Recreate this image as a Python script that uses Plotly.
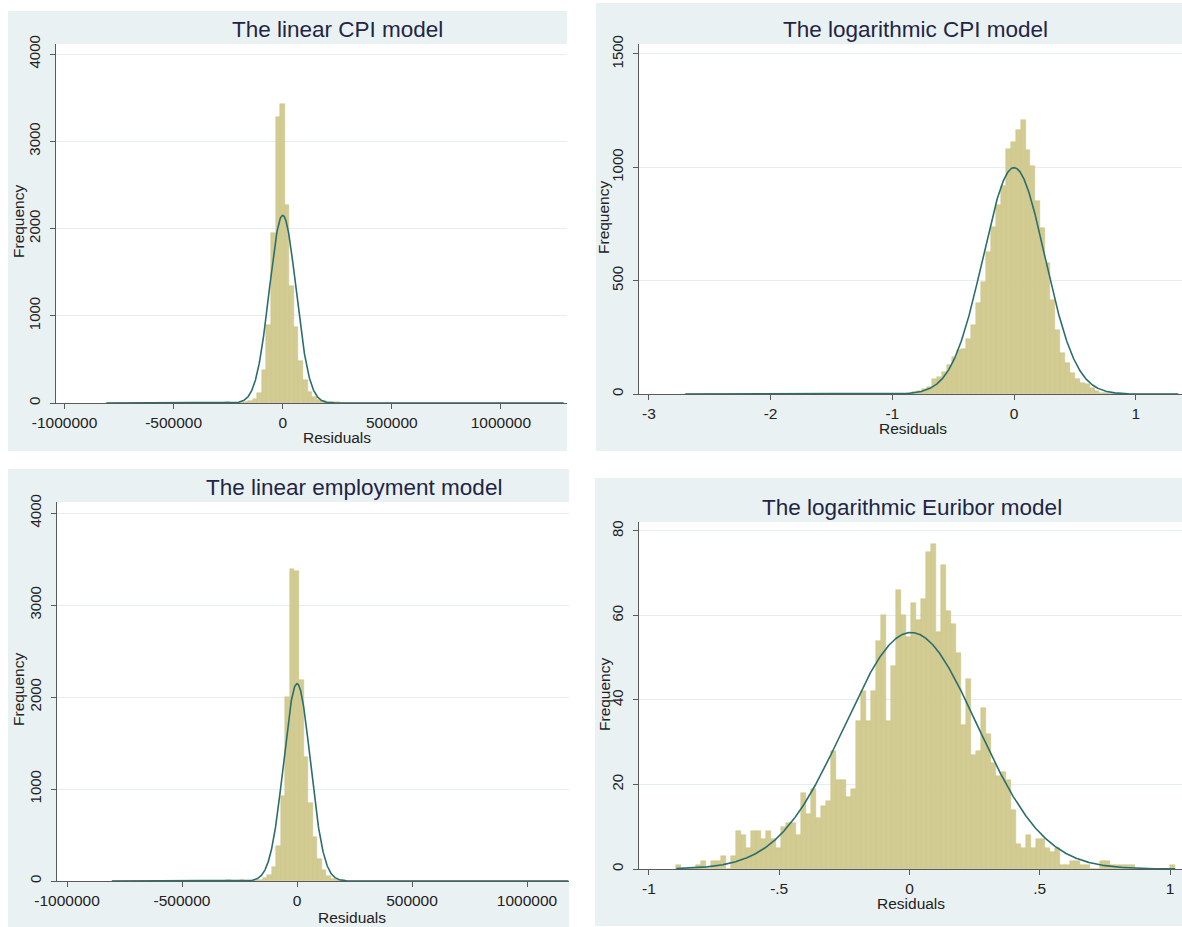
import numpy as np
import plotly.graph_objects as go

W, H = 1182, 927

# ---------------- histogram data (100 equal-width bins per model) ----------------
# linear CPI model residuals
lin_cpi_start = -808000
lin_cpi_width = 20950
lin_cpi_counts = [
    3, 0, 0, 0, 0, 0, 0, 0, 0, 0,
    2, 0, 0, 0, 0, 0, 3, 0, 0, 4,
    0, 5, 0, 0, 5, 0, 6, 0, 0, 8,
    12, 25, 50, 110, 380, 890, 1950, 3280, 3430, 2270,
    1340, 870, 480, 260, 130, 70, 35, 20, 12, 8,
    6, 0, 5, 0, 0, 3, 0, 0, 0, 0,
    4, 0, 0, 3, 0, 0, 0, 4, 0, 0,
    3, 0, 0, 0, 3, 0, 0, 0, 3, 0,
    2, 0, 0, 3, 0, 0, 0, 0, 0, 0,
    0, 0, 0, 0, 0, 0, 0, 0, 0, 2,
]
lin_cpi_fit = (0.0, 61000.0)          # mean, sd of the normal overlay

# logarithmic CPI model residuals
log_cpi_start = -2.70
log_cpi_width = 0.0405
log_cpi_counts = [
    1, 0, 0, 1, 0, 2, 0, 0, 1, 0,
    1, 0, 2, 0, 0, 1, 0, 0, 0, 0,
    1, 0, 0, 0, 1, 0, 0, 0, 0, 0,
    2, 0, 0, 1, 0, 0, 0, 0, 2, 0,
    0, 2, 0, 2, 2, 4, 7, 12, 20, 30,
    65, 76, 99, 126, 165, 194, 197, 241, 304, 403,
    496, 628, 738, 834, 918, 1079, 1110, 1165, 1209, 1076,
    1006, 853, 731, 576, 415, 282, 179, 135, 91, 65,
    50, 44, 25, 13, 6, 3, 2, 1, 1, 0,
    1, 0, 0, 0, 0, 0, 0, 0, 0, 1,
]
log_cpi_fit = (0.0, 0.254)

# linear employment model residuals
lin_emp_start = -805000
lin_emp_width = 19850
lin_emp_counts = [
    3, 0, 0, 0, 0, 0, 0, 0, 0, 0,
    3, 0, 0, 0, 0, 2, 0, 0, 4, 0,
    5, 0, 5, 0, 0, 6, 0, 0, 8, 0,
    0, 10, 15, 30, 60, 150, 380, 920, 2000, 3390,
    3370, 2190, 1345, 850, 478, 243, 116, 51, 25, 14,
    8, 0, 0, 5, 0, 0, 3, 0, 0, 0,
    0, 0, 0, 0, 0, 0, 3, 0, 0, 3,
    0, 3, 0, 0, 0, 0, 2, 0, 0, 0,
    3, 0, 0, 2, 0, 0, 0, 3, 0, 0,
    2, 0, 0, 0, 0, 0, 0, 0, 0, 1,
]
lin_emp_fit = (0.0, 58000.0)

# logarithmic Euribor model residuals
log_eur_start = -0.895
log_eur_width = 0.01915
log_eur_counts = [
    1, 0, 0, 0, 1, 2, 0, 2, 2, 3,
    0, 3, 9, 8, 5, 9, 9, 7, 9, 7,
    5, 10, 11, 11, 8, 18, 13, 19, 12, 15,
    16, 28, 21, 21, 17, 19, 35, 42, 35, 42,
    54, 60, 35, 48, 66, 60, 55, 63, 59, 64,
    75, 77, 56, 72, 61, 58, 51, 34, 45, 27,
    28, 38, 32, 25, 22, 23, 21, 14, 6, 5,
    8, 5, 7, 7, 5, 4, 5, 1, 1, 2,
    2, 1, 1, 0, 0, 2, 2, 1, 1, 1,
    1, 1, 0, 0, 0, 0, 0, 0, 0, 1,
]
log_eur_fit = (0.006, 0.255)

# tick values / labels
lin_ticks = [-1000000, -500000, 0, 500000, 1000000]
lin_ticklabels = ["-1000000", "-500000", "0", "500000", "1000000"]
lin_yticks = [0, 1000, 2000, 3000, 4000]
log_cpi_ticks = [-3, -2, -1, 0, 1]
log_cpi_ticklabels = ["-3", "-2", "-1", "0", "1"]
log_cpi_yticks = [0, 500, 1000, 1500]
log_eur_ticks = [-1, -0.5, 0, 0.5, 1]
log_eur_ticklabels = ["-1", "-.5", "0", ".5", "1"]
log_eur_yticks = [0, 20, 40, 60, 80]

titles = ["The linear CPI model", "The logarithmic CPI model",
          "The linear employment model", "The logarithmic Euribor model"]

# ---------------- styling ----------------
BG = "#eaf1f3"
GRID = "#e4eef0"
BAR = "#d2cc93"
BAR_EDGE = "#c8c185"
CURVE = "#2b6f6c"
AXIS = "#5a5a5a"
TEXT = "#222222"
TITLE = "#1f2545"
FONT = "Liberation Sans, Arial, sans-serif"


def px_x(p):
    return p / W


def px_y(p):
    return 1 - p / H


# panel geometry in pixels: background box, plot box, axis ranges, text anchors
panels = [
    dict(bg=(8, 11, 567, 451), plot=(56, 44, 567, 403),
         xr=(-1.039e6, 1.303e6), yr=(0, 4115),
         start=lin_cpi_start, width=lin_cpi_width, counts=lin_cpi_counts, fit=lin_cpi_fit,
         xt=lin_ticks, xtl=lin_ticklabels, yt=lin_yticks,
         title_xy=(337, 30), xlab_xy=(337, 438), ylab_xy=(18, 222)),
    dict(bg=(596, 3, 1182, 451), plot=(639, 44, 1182, 394),
         xr=(-3.081, 1.380), yr=(0, 1544),
         start=log_cpi_start, width=log_cpi_width, counts=log_cpi_counts, fit=log_cpi_fit,
         xt=log_cpi_ticks, xtl=log_cpi_ticklabels, yt=log_cpi_yticks,
         title_xy=(915, 30), xlab_xy=(913, 429), ylab_xy=(604, 218)),
    dict(bg=(8, 469, 569, 927), plot=(57, 502, 569, 881),
         xr=(-1.0435e6, 1.1826e6), yr=(0, 4120),
         start=lin_emp_start, width=lin_emp_width, counts=lin_emp_counts, fit=lin_emp_fit,
         xt=lin_ticks, xtl=lin_ticklabels, yt=lin_yticks,
         title_xy=(354, 487), xlab_xy=(352, 917), ylab_xy=(18, 690)),
    dict(bg=(595, 478, 1182, 926), plot=(639, 522, 1182, 869),
         xr=(-1.038, 1.046), yr=(0, 82.1),
         start=log_eur_start, width=log_eur_width, counts=log_eur_counts, fit=log_eur_fit,
         xt=log_eur_ticks, xtl=log_eur_ticklabels, yt=log_eur_yticks,
         title_xy=(912, 507), xlab_xy=(911, 903), ylab_xy=(604, 695)),
]

fig = go.Figure()
shapes = []
annotations = []
layout_axes = {}

for i, p in enumerate(panels, start=1):
    xa = "x" if i == 1 else f"x{i}"
    ya = "y" if i == 1 else f"y{i}"
    counts = np.array(p["counts"], dtype=float)
    w = p["width"]
    centers = p["start"] + w * (np.arange(len(counts)) + 0.5)

    fig.add_trace(go.Bar(
        x=centers, y=counts, width=w, xaxis=xa, yaxis=ya,
        marker=dict(color=BAR, line=dict(color=BAR_EDGE, width=0.5)),
        showlegend=False, hoverinfo="skip",
    ))

    # normal density scaled to frequency
    mu, sd = p["fit"]
    lo = p["start"]
    hi = p["start"] + w * len(counts)
    xs = np.linspace(lo, hi, 1500)
    ys = counts.sum() * w * np.exp(-0.5 * ((xs - mu) / sd) ** 2) / (sd * np.sqrt(2 * np.pi))
    fig.add_trace(go.Scatter(
        x=xs, y=ys, xaxis=xa, yaxis=ya, mode="lines",
        line=dict(color=CURVE, width=1.6), showlegend=False, hoverinfo="skip",
    ))

    bx0, by0, bx1, by1 = p["bg"]
    shapes.append(dict(type="rect", xref="paper", yref="paper", layer="below",
                       x0=px_x(bx0), x1=px_x(bx1), y0=px_y(by1), y1=px_y(by0),
                       fillcolor=BG, line=dict(width=0)))
    qx0, qy0, qx1, qy1 = p["plot"]
    shapes.append(dict(type="rect", xref="paper", yref="paper", layer="below",
                       x0=px_x(qx0), x1=px_x(qx1), y0=px_y(qy1), y1=px_y(qy0),
                       fillcolor="white", line=dict(width=0)))

    xkey = "xaxis" if i == 1 else f"xaxis{i}"
    ykey = "yaxis" if i == 1 else f"yaxis{i}"
    layout_axes[xkey] = dict(
        domain=[px_x(qx0), px_x(qx1)], anchor=ya, range=list(p["xr"]),
        tickvals=p["xt"], ticktext=p["xtl"], ticks="outside", ticklen=5,
        tickcolor=AXIS, showline=True, linecolor=AXIS, linewidth=1,
        showgrid=False, zeroline=False, fixedrange=True, automargin=False,
        tickfont=dict(family=FONT, size=15.5, color=TEXT),
    )
    layout_axes[ykey] = dict(
        domain=[px_y(qy1), px_y(qy0)], anchor=xa, range=list(p["yr"]),
        tickvals=p["yt"], ticktext=[str(v) for v in p["yt"]], tickangle=-90,
        ticks="outside", ticklen=5, tickcolor=AXIS, showline=True,
        linecolor=AXIS, linewidth=1, showgrid=True, gridcolor=GRID, gridwidth=1,
        zeroline=False, fixedrange=True, automargin=False, ticklabelstandoff=4,
        tickfont=dict(family=FONT, size=15, color=TEXT),
    )

    tx, ty = p["title_xy"]
    annotations.append(dict(text=titles[i - 1], xref="paper", yref="paper",
                            x=px_x(tx), y=px_y(ty), xanchor="center", yanchor="middle",
                            showarrow=False, font=dict(family=FONT, size=22.5, color=TITLE)))
    lx, ly = p["xlab_xy"]
    annotations.append(dict(text="Residuals", xref="paper", yref="paper",
                            x=px_x(lx), y=px_y(ly), xanchor="center", yanchor="middle",
                            showarrow=False, font=dict(family=FONT, size=15.5, color=TEXT)))
    fx, fy = p["ylab_xy"]
    annotations.append(dict(text="Frequency", xref="paper", yref="paper", textangle=-90,
                            x=px_x(fx), y=px_y(fy), xanchor="center", yanchor="middle",
                            showarrow=False, font=dict(family=FONT, size=15.5, color=TEXT)))

fig.update_layout(
    width=W, height=H, margin=dict(l=0, r=0, t=0, b=0, autoexpand=False),
    paper_bgcolor="white", plot_bgcolor="rgba(0,0,0,0)",
    bargap=0, barmode="overlay", showlegend=False,
    shapes=shapes, annotations=annotations,
    font=dict(family=FONT, color=TEXT),
    **layout_axes,
)

fig.write_html("out.html")
